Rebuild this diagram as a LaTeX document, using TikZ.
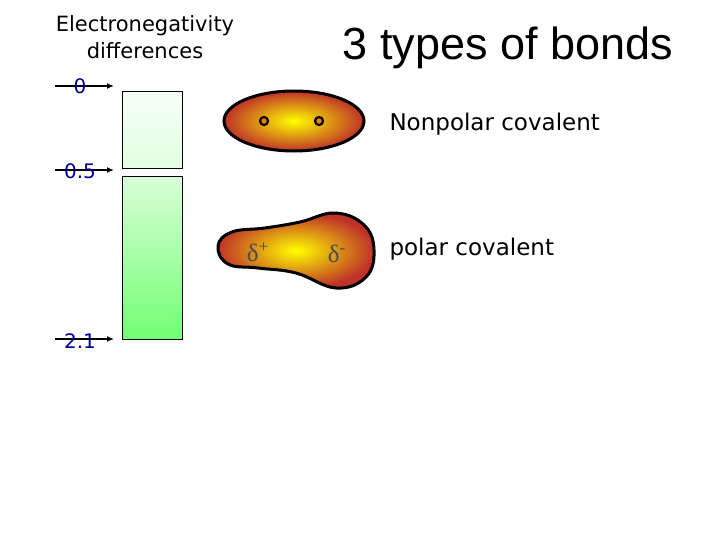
\documentclass[tikz,border=0pt]{standalone}
\usepackage{fontspec}
\setmainfont{DejaVu Sans}
\newfontfamily\helv{Liberation Sans}
\newfontfamily\serifd{Liberation Serif}
\usetikzlibrary{arrows.meta}
\definecolor{edgec}{RGB}{190,50,40}
\begin{document}
\begin{tikzpicture}[x=1pt,y=-1pt,
  tick/.style={-{Latex[length=7pt,width=6pt]},line width=1.6pt},
  num/.style={text=blue!60!black,font=\fontsize{20}{20}\selectfont},
  blobstyle/.style={draw=black,line width=3pt,inner color=yellow,outer color=edgec},
  lab/.style={anchor=west,font=\fontsize{23}{26}\selectfont},
  dl/.style={text=black!70,font=\serifd\fontsize{25}{25}\selectfont}]
\useasboundingbox (0,0) rectangle (728,546);
\node[font=\fontsize{21}{27}\selectfont,align=center] (hd) at (145,37) {Electronegativity\\differences};
\node[font=\helv\fontsize{45}{48}\selectfont] (title) at (508,48) {3 types of bonds};
\coordinate (a0) at (55,86); \coordinate (b0) at (114,86);
\coordinate (a1) at (55,170); \coordinate (b1) at (114,170);
\coordinate (a2) at (55,339); \coordinate (b2) at (114,339);
\draw[tick] (a0) -- (b0); \draw[tick] (a1) -- (b1); \draw[tick] (a2) -- (b2);
\node[num] (n0) at (80,86) {0};
\node[num] (n1) at (80,171) {0.5};
\node[num] (n2) at (80,341) {2.1};
\draw[line width=1pt,top color=green!3,bottom color=green!12] (122,91) rectangle (182,168);
\draw[line width=1pt,top color=green!15,bottom color=green!55] (122,176) rectangle (182,339);
\draw[blobstyle] (294,121) ellipse [x radius=70,y radius=30];
\draw[line width=2.2pt,fill=orange] (264,121) circle (4) (319,121) circle (4);
\draw[blobstyle] plot[smooth cycle,tension=0.7] coordinates {(218,246) (232,232) (265,228) (300,222) (335,213) (364,225) (374,250) (366,277) (336,288) (296,273) (258,268) (228,264)};
\node[dl] (dp) at (258,252) {δ\textsuperscript{+}};
\node[dl] (dm) at (337,254) {δ\textsuperscript{-}};
\node[lab] (np) at (386,124) {Nonpolar covalent};
\node[lab] (pc) at (386,249) {polar covalent};
\end{tikzpicture}
\end{document}
